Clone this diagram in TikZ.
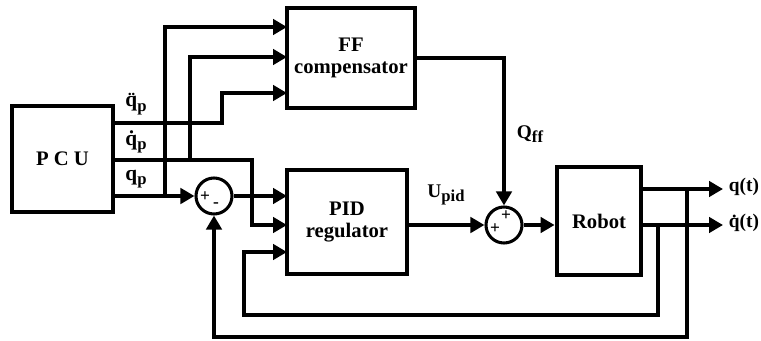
\documentclass[tikz,border=0pt]{standalone}
\usepackage{fontspec}
\setmainfont{Liberation Serif}
\usetikzlibrary{arrows.meta}
\newcommand\lowsub[1]{\raisebox{-0.45ex}{\fontsize{12.5}{13}\selectfont #1}}
\begin{document}
\begin{tikzpicture}[x=0.75pt,y=-0.75pt,
  line width=3.5pt,
  box/.style={draw, line width=3.6pt, inner sep=0pt, align=center,
    font=\fontsize{15.5}{17}\selectfont\bfseries},
  sumc/.style={draw, circle, line width=2.3pt, minimum size=27pt, inner sep=0pt},
  arr/.style={-{Triangle[length=10.5pt,width=11.5pt]}},
  lbl/.style={font=\fontsize{14.5}{16}\selectfont\bfseries, inner sep=0pt},
  sgn/.style={font=\fontsize{13}{13}\selectfont\bfseries, inner sep=0pt}]
\useasboundingbox (0,0) rectangle (761,340);
% blocks
\node[box, minimum width=75.75pt, minimum height=79.5pt] (pcu) at (62.5,159) {P C U};
\node[box, minimum width=96pt, minimum height=75pt] (ff) at (351,58) {FF\\compensator};
\node[box, minimum width=90pt, minimum height=78pt] (pid) at (347,222) {PID\\regulator};
\node[box, minimum width=63pt, minimum height=81pt] (robot) at (599,221) {Robot};
\node[sumc] (s1) at (214,196) {};
\node[sumc] (s2) at (504,225) {};
% signs
\node[sgn] (s1p) at (205,197) {+};
\node[sgn] (s1m) at (216,205) {-};
\node[sgn] (s2a) at (495,229) {+};
\node[sgn] (s2b) at (506,216) {+};
% ports and bends
\coordinate (ffi1) at (287,27);
\coordinate (ffi2) at (287,57);
\coordinate (ffi3) at (287,93);
\coordinate (pidi1) at (287,196);
\coordinate (pidi2) at (287,225);
\coordinate (pidi3) at (287,252);
\coordinate (j1) at (165,196);
\coordinate (j2) at (190,160);
\coordinate (b2) at (252,160);
\coordinate (b3) at (222,123);
\coordinate (fb1) at (658,225);
\coordinate (fb1b) at (244,315);
\coordinate (fb2) at (687,189);
\coordinate (fb2b) at (214,337);
\coordinate (o1) at (723,189);
\coordinate (o2) at (723,225);
% connectors
\draw[arr] (pcu.east |- s1) -- (s1);
\draw[arr] (j1) |- (ffi1);
\draw[arr] (pcu.east |- b2) -- (b2) |- (pidi2);
\draw[arr] (j2) |- (ffi2);
\draw[arr] (pcu.east |- b3) -- (b3) |- (ffi3);
\draw[arr] (s1) -- (pidi1);
\draw[arr] (ff.east) -| (s2);
\draw[arr] (pid.east |- s2) -- (s2);
\draw[arr] (s2) -- (robot.west |- s2);
\draw[arr] (robot.east |- o1) -- (o1);
\draw[arr] (robot.east |- o2) -- (o2);
\draw[arr] (fb1) |- (fb1b) |- (pidi3);
\draw[arr] (fb2) |- (fb2b) -- (s1);
% labels
\node[lbl, font=\fontsize{16}{17}\selectfont\bfseries] (lq2) at (136,104) {\"q\lowsub{p}};
\node[lbl, font=\fontsize{16}{17}\selectfont\bfseries] (lq1) at (136,142) {\.q\lowsub{p}};
\node[lbl, font=\fontsize{16}{17}\selectfont\bfseries] (lq0) at (136,179) {q\lowsub{p}};
\node[lbl] (lqff) at (530,134) {Q\lowsub{ff}};
\node[lbl] (lupid) at (446,195) {U\lowsub{pid}};
\node[lbl] (lqt) at (744,187) {q(t)};
\node[lbl] (lqdt) at (744,223) {\.q(t)};
\end{tikzpicture}
\end{document}
